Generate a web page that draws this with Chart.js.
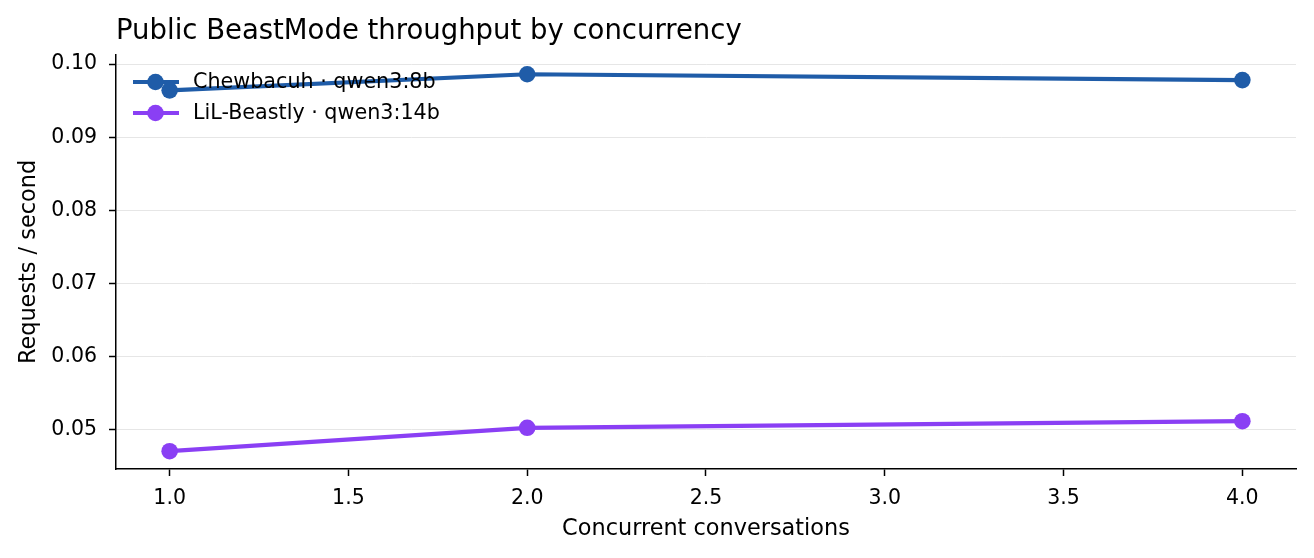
<!DOCTYPE html>
<html>
<head>
<meta charset="utf-8">
<script src="https://cdn.jsdelivr.net/npm/chart.js@4.4.1/dist/chart.umd.min.js"></script>
<style>
  html, body { margin: 0; padding: 0; background: #fff; }
  #wrap { width: 1314px; height: 558px; }
</style>
</head>
<body>
<div id="wrap"><canvas id="c" width="1314" height="558"></canvas></div>
<script>
// data
const concurrency = [1, 2, 4];
const chewbacuh = [0.0964, 0.0986, 0.0978];
const beastly = [0.0471, 0.0503, 0.0512];
const seriesNames = ["Chewbacuh · qwen3:8b", "LiL-Beastly · qwen3:14b"];
const seriesColors = ["#1f5ca8", "#8a3ff4"];
const chartTitle = "Public BeastMode throughput by concurrency";

const FONT = "'DejaVu Sans', sans-serif";

// title + legend drawn by hand so they sit where matplotlib put them
const extras = {
  id: "extras",
  afterDatasetsDraw(chart) {
    const ctx = chart.ctx;
    ctx.save();
    ctx.fillStyle = "#000";
    ctx.font = "27.5px " + FONT;
    ctx.textBaseline = "middle";
    ctx.textAlign = "left";
    ctx.fillText(chartTitle, 116, 32);

    ctx.font = "20.7px " + FONT;
    seriesNames.forEach((name, i) => {
      const y = 82 + i * 31;
      ctx.strokeStyle = seriesColors[i];
      ctx.lineWidth = 4.2;
      ctx.beginPath();
      ctx.moveTo(133, y);
      ctx.lineTo(179, y);
      ctx.stroke();
      ctx.fillStyle = seriesColors[i];
      ctx.beginPath();
      ctx.arc(155.5, y, 8.3, 0, Math.PI * 2);
      ctx.fill();
      ctx.fillStyle = "#000";
      ctx.fillText(name, 193, y + 1);
    });
    ctx.restore();
  }
};

new Chart(document.getElementById("c"), {
  type: "line",
  data: {
    datasets: [
      {
        label: seriesNames[0],
        data: concurrency.map((x, i) => ({ x: x, y: chewbacuh[i] })),
        borderColor: seriesColors[0],
        backgroundColor: seriesColors[0],
        borderWidth: 4.2,
        pointRadius: 8.3,
        pointHoverRadius: 8.3,
        pointBorderWidth: 0
      },
      {
        label: seriesNames[1],
        data: concurrency.map((x, i) => ({ x: x, y: beastly[i] })),
        borderColor: seriesColors[1],
        backgroundColor: seriesColors[1],
        borderWidth: 4.2,
        pointRadius: 8.3,
        pointHoverRadius: 8.3,
        pointBorderWidth: 0
      }
    ]
  },
  options: {
    responsive: false,
    animation: false,
    devicePixelRatio: 1,
    layout: { padding: { top: 55, left: 0, right: 18, bottom: 0 } },
    plugins: {
      legend: { display: false },
      tooltip: { enabled: false }
    },
    scales: {
      x: {
        type: "linear",
        min: 0.85,
        max: 4.15,
        afterFit(scale) { scale.height = 89; },
        afterBuildTicks(scale) {
          scale.ticks = [1, 1.5, 2, 2.5, 3, 3.5, 4].map(v => ({ value: v }));
        },
        ticks: {
          color: "#000",
          font: { family: FONT, size: 20.5 },
          padding: 10,
          maxRotation: 0,
          callback: v => v.toFixed(1)
        },
        grid: {
          drawOnChartArea: false,
          drawTicks: true,
          tickLength: 7,
          tickColor: "#000",
          tickWidth: 1.5
        },
        border: { color: "#000", width: 1.5 },
        title: {
          display: true,
          text: "Concurrent conversations",
          color: "#000",
          font: { family: FONT, size: 22.4 },
          padding: { top: 6, bottom: 15 }
        }
      },
      y: {
        type: "linear",
        min: 0.04467,
        max: 0.10123,
        afterFit(scale) { scale.width = 116; },
        afterBuildTicks(scale) {
          scale.ticks = [0.05, 0.06, 0.07, 0.08, 0.09, 0.10].map(v => ({ value: v }));
        },
        ticks: {
          color: "#000",
          font: { family: FONT, size: 20.5 },
          padding: 12,
          callback: v => v.toFixed(2)
        },
        grid: {
          color: "#e6e6e6",
          lineWidth: 1,
          drawTicks: true,
          tickLength: 7,
          tickColor: "#000",
          tickWidth: 1.5
        },
        border: { color: "#000", width: 1.5 },
        title: {
          display: true,
          text: "Requests / second",
          color: "#000",
          font: { family: FONT, size: 22.4 },
          padding: { top: 16, bottom: 8 }
        }
      }
    }
  },
  plugins: [extras]
});
</script>
</body>
</html>
